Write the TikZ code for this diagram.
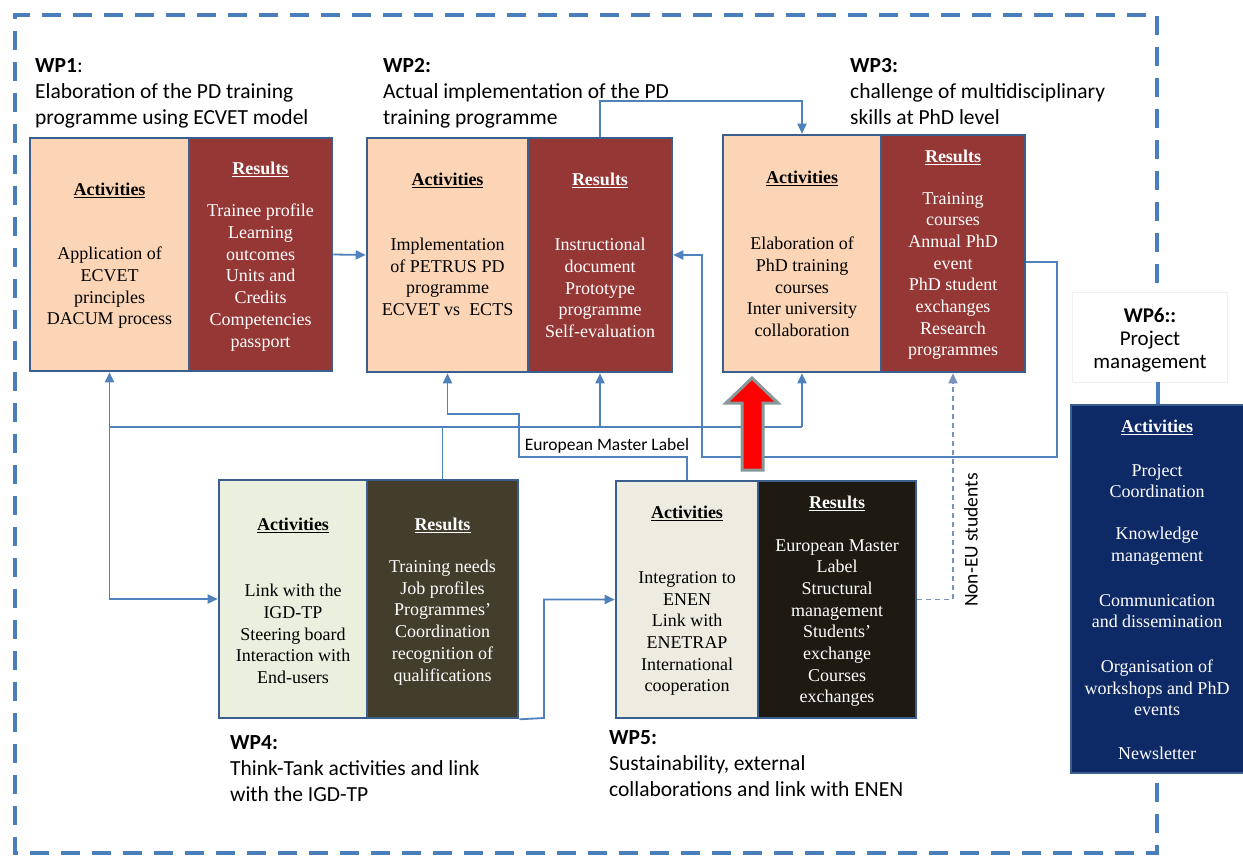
\documentclass[tikz,border=0pt]{standalone}
\usepackage{fontspec}
\setmainfont{Liberation Serif}
\newfontfamily\calib{Carlito}
\usetikzlibrary{arrows.meta}
\definecolor{connblue}{HTML}{4F81BD}
\definecolor{framecol}{HTML}{4A7EBB}
\definecolor{boxborder}{HTML}{3A5F8E}
\definecolor{peach}{HTML}{FBD5B5}
\definecolor{darkred}{HTML}{953735}
\definecolor{paleg}{HTML}{EBF0DE}
\definecolor{olive}{HTML}{433D2B}
\definecolor{paleh}{HTML}{EEECE1}
\definecolor{nearblack}{HTML}{1E1A12}
\definecolor{navy}{HTML}{0E2A66}
\definecolor{arrgray}{HTML}{889898}
\definecolor{dashblue}{HTML}{7A93BC}
\begin{document}
\begin{tikzpicture}[x=1pt,y=-1pt,
  part/.style={draw=boxborder, line width=2.6pt, inner sep=0pt, rectangle},
  hdr/.style={font=\fontsize{18}{21.7}\selectfont\bfseries, inner sep=0pt},
  body/.style={font=\fontsize{18}{21.7}\selectfont, align=center, inner sep=0pt},
  wplabel/.style={font=\calib\fontsize{21.5}{26}\selectfont, align=left, anchor=base west, inner sep=0pt},
  conn/.style={draw=connblue, line width=1.8pt},
  arr/.style={conn, -{Triangle[length=10pt,width=9pt]}},
  darr/.style={draw=dashblue, line width=1.6pt, dash pattern=on 5pt off 4pt, -{Triangle[length=10pt,width=9pt]}},
  frame/.style={draw=framecol, line width=3.5pt},
  wht/.style={text=white}
]
\useasboundingbox (0,0) rectangle (1243,857);
\fill[white] (0,0) rectangle (1243,857);

% dashed frame
\draw[frame, dash pattern=on 19pt off 12pt] (1157,283) -- (1157,15) -- (15,15) -- (15,853) -- (1157,853) -- (1157,773);

% WP6
\node[rectangle, fill=white, draw=black!6, line width=0.6pt, minimum width=155pt, minimum height=90pt] (wp6l) at (1149.5,337) {};
\node[rectangle, fill=navy, draw=boxborder, line width=2.6pt, minimum width=174pt, minimum height=368pt] (wp6) at (1158,589) {};
\draw[frame] (wp6.north |- wp6l.south) -- (wp6.north);

% boxes
\node[part, fill=peach, minimum width=159pt, minimum height=233pt] (wp1a) at (109.5,254.5) {};
\node[part, fill=darkred, minimum width=143pt, minimum height=233pt] (wp1r) at (260.5,254.5) {};
\node[part, fill=peach, minimum width=161pt, minimum height=234pt] (wp2a) at (447.5,255) {};
\node[part, fill=darkred, minimum width=144pt, minimum height=234pt] (wp2r) at (600,255) {};
\node[part, fill=peach, minimum width=158pt, minimum height=237pt] (wp3a) at (802,253.5) {};
\node[part, fill=darkred, minimum width=144pt, minimum height=237pt] (wp3r) at (953,253.5) {};
\node[part, fill=paleg, minimum width=148pt, minimum height=238pt] (wp4a) at (293,599) {};
\node[part, fill=olive, minimum width=151pt, minimum height=238pt] (wp4r) at (442.5,599) {};
\node[part, fill=paleh, minimum width=142pt, minimum height=237pt] (wp5a) at (687,599.5) {};
\node[part, fill=nearblack, minimum width=158pt, minimum height=237pt] (wp5r) at (837,599.5) {};

% connectors
\coordinate (busL) at (109.5,427);
\coordinate (busR) at (802,427);
\draw[conn] (wp4r.north) -- (wp4r.north |- busL);
\draw[conn] (busL) -- (busR);
\draw[arr] (busL) -- (wp1a.south);
\draw[arr] (busR) -- (wp3a.south);
\draw[arr] (wp2r.south |- busL) -- (wp2r.south);
\draw[arr] (busL) |- (wp4a.west);
\draw[arr] (wp1r.east) -- (wp2a.west);
\draw[arr] (wp2r.north) -- ++(0,-36) -| (wp3a.north);

\coordinate (e1) at (687,457);
\coordinate (e2) at (519,457);
\coordinate (e3) at (519,414);
\coordinate (e4) at (447.5,414);
\draw[arr] (wp5a.north) -- (e1) -- (e2) -- (e3) -- (e4) -- (wp2a.south);

\coordinate (f1) at (1057,262);
\coordinate (f2) at (1057,457);
\coordinate (f3) at (702,457);
\draw[arr] (wp3r.east |- f1) -- (f1) -- (f2) -- (f3) |- (wp2r.east);

\coordinate (g1) at (544,718);
\draw[arr] (wp4r.south east) -- (g1) |- (wp5a.west);

\draw[darr] (wp5r.east) -| (wp3r.south);

% red arrow
\fill[red, draw=arrgray, line width=3pt, line join=miter] (742,470) -- (742,403) -- (726,403) -- (752,378) -- (778,403) -- (763,403) -- (763,470) -- cycle;

% labels
\node[wplabel] (l1) at (35,124) {\textbf{WP1}:\\Elaboration of the PD training\\programme using ECVET model};
\node[wplabel] (l2) at (383,124) {\textbf{WP2:}\\Actual implementation of the PD\\training programme};
\node[wplabel] (l3) at (850,124) {\textbf{WP3:}\\challenge of multidisciplinary\\skills at PhD level};
\node[wplabel] (l4) at (230,801) {\textbf{WP4:}\\Think-Tank activities and link\\with the IGD-TP};
\node[wplabel] (l5) at (609,796) {\textbf{WP5:}\\Sustainability, external\\collaborations and link with ENEN};
\node[font=\calib\fontsize{21}{23}\selectfont, align=center, inner sep=0pt] (l6) at (1150,340) {\textbf{WP6::}\\Project\\management};
\node[font=\calib\fontsize{17.5}{20}\selectfont, inner sep=0pt] (eml) at (607,446) {European Master Label};
\node[font=\calib\fontsize{19.5}{22}\selectfont, inner sep=0pt, rotate=90] (neu) at (971,540) {Non-EU students};

% box texts
\node[hdr] (h1a) at (109.5,190) {\underline{Activities}};
\node[body] (b1a) at (109.5,288) {Application of\\ECVET\\principles\\DACUM process};
\node[hdr, wht] (h1r) at (260.5,169) {\underline{Results}};
\node[body, wht] (b1r) at (260.5,277.5) {Trainee profile\\Learning\\outcomes\\Units and\\Credits\\Competencies\\passport};

\node[hdr] (h2a) at (447.5,180) {\underline{Activities}};
\node[body] (b2a) at (447.5,277) {Implementation\\of PETRUS PD\\programme\\ECVET vs~~ECTS};
\node[hdr, wht] (h2r) at (600,180) {\underline{Results}};
\node[body, wht] (b2r) at (600,288) {Instructional\\document\\Prototype\\programme\\Self-evaluation};

\node[hdr] (h3a) at (802,178) {\underline{Activities}};
\node[body] (b3a) at (802,287) {Elaboration of\\PhD training\\courses\\Inter university\\collaboration};
\node[hdr, wht] (h3r) at (953,157) {\underline{Results}};
\node[body, wht] (b3r) at (953,276) {Training\\courses\\Annual PhD\\event\\PhD student\\exchanges\\Research\\programmes};

\node[hdr] (h4a) at (293,525) {\underline{Activities}};
\node[body] (b4a) at (293,634) {Link with the\\IGD-TP\\Steering board\\Interaction with\\End-users};
\node[hdr, wht] (h4r) at (442.5,525) {\underline{Results}};
\node[body, wht] (b4r) at (442.5,622.5) {Training needs\\Job profiles\\Programmes’\\Coordination\\recognition of\\qualifications};

\node[hdr] (h5a) at (687,513) {\underline{Activities}};
\node[body] (b5a) at (687,633.5) {Integration to\\ENEN\\Link with\\ENETRAP\\International\\cooperation};
\node[hdr, wht] (h5r) at (837,503) {\underline{Results}};
\node[body, wht] (b5r) at (837,623) {European Master\\Label\\Structural\\management\\Students’\\exchange\\Courses\\exchanges};

\node[hdr, wht] (h6) at (1157,427) {\underline{Activities}};
\node[body, wht] (b6a) at (1157,481) {Project\\Coordination};
\node[body, wht] (b6b) at (1157,546) {Knowledge\\management};
\node[body, wht] (b6c) at (1157,611) {Communication\\and dissemination};
\node[body, wht] (b6d) at (1157,688) {Organisation of\\workshops and PhD\\events};
\node[body, wht] (b6e) at (1157,753) {Newsletter};
\end{tikzpicture}
\end{document}
